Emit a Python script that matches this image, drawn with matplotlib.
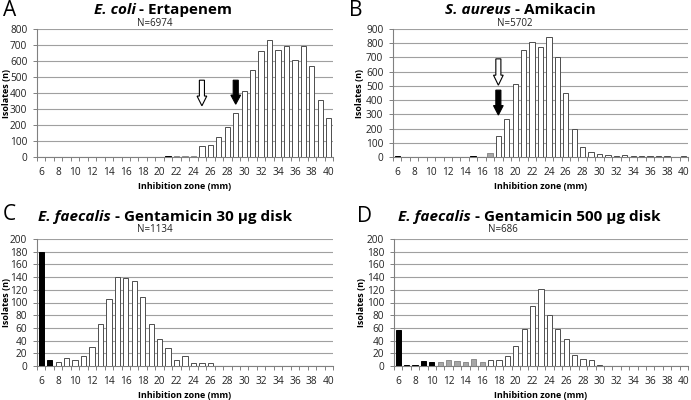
import matplotlib
matplotlib.use("Agg")
import matplotlib.pyplot as plt
from matplotlib.patches import FancyArrow

plt.rcParams['font.family'] = ['Open Sans', 'DejaVu Sans']

zones = list(range(6, 41))

# Panel A: E. coli - Ertapenem
a_counts = [3, 0, 0, 0, 0, 0, 0, 0, 0, 0, 0, 0, 0, 0, 0, 5, 8, 8, 8, 68,
            72, 122, 188, 278, 415, 545, 665, 733, 670, 695, 607, 692, 567, 356, 243]
a_cat = ['R'] * 16 + ['I'] * 3 + ['S'] * 16
# Panel B: S. aureus - Amikacin
b_counts = [5, 0, 0, 3, 3, 0, 3, 3, 3, 5, 3, 25, 150, 270, 510, 755, 812, 773, 845, 700,
            450, 200, 72, 35, 18, 12, 8, 12, 6, 5, 5, 4, 4, 0, 4]
b_cat = ['R'] * 10 + ['I'] * 2 + ['S'] * 23
# Panel C: E. faecalis - Gentamicin 30 ug
c_counts = [180, 10, 7, 12, 10, 15, 30, 66, 106, 140, 138, 134, 109, 66, 43, 28, 10, 15, 5, 4,
            4, 0, 0, 0, 0, 0, 0, 0, 0, 0, 0, 0, 0, 0, 0]
c_cat = ['R'] * 2 + ['S'] * 33
# Panel D: E. faecalis - Gentamicin 500 ug
d_counts = [56, 1, 2, 8, 6, 7, 10, 8, 6, 11, 7, 9, 10, 15, 31, 59, 94, 122, 81, 58,
            43, 18, 11, 10, 1, 0, 0, 0, 0, 0, 0, 0, 0, 0, 0]
d_cat = ['R'] * 5 + ['I'] * 6 + ['S'] * 24

titles_it = ['E. coli', 'S. aureus', 'E. faecalis', 'E. faecalis']
titles_rest = [' - Ertapenem', ' - Amikacin', ' - Gentamicin 30 µg disk', ' - Gentamicin 500 µg disk']
n_labels = ['N=6974', 'N=5702', 'N=1134', 'N=686']
letters = ['A', 'B', 'C', 'D']
ymaxes = [800, 900, 200, 200]
ysteps = [100, 100, 20, 20]

# arrows: (zone, y_top, y_tip, fill)
arrows = [
    [(25, 480, 320, 'white'), (29, 480, 330, 'black')],
    [(18, 690, 505, 'white'), (18, 470, 295, 'black')],
    [],
    [],
]

colmap = {'R': 'black', 'I': '#a6a6a6', 'S': 'white'}
edgemap = {'R': 'black', 'I': '#8c8c8c', 'S': '#4d4d4d'}

fig = plt.figure(figsize=(6.91, 4.0), dpi=100)

W, H = 691, 400
boxes = [
    (37, 29, 333, 157),
    (393, 29, 688, 157),
    (37, 239, 333, 366),
    (394, 239, 688, 366),
]
ylabel_right = [11, 364, 11, 366]
title_pos = [(163, 10), (520, 10), (165, 217), (529, 217)]
n_pos = [(155, 23), (515, 23), (155, 230), (503, 230)]
letter_pos = [(3, 11), (349, 11), (3, 214), (357, 217)]

data = [(a_counts, a_cat), (b_counts, b_cat), (c_counts, c_cat), (d_counts, d_cat)]

axes = []
for i, (counts, cats) in enumerate(data):
    x0, y0, x1, y1 = boxes[i]
    ax = fig.add_axes([x0 / W, 1 - y1 / H, (x1 - x0) / W, (y1 - y0) / H])
    axes.append(ax)
    ax.bar(zones, counts, width=0.62,
           color=[colmap[c] for c in cats],
           edgecolor=[edgemap[c] for c in cats], linewidth=0.7, zorder=3)
    ax.set_xlim(5.5, 40.5)
    ax.set_ylim(0, ymaxes[i])
    ax.set_yticks(range(0, ymaxes[i] + 1, ysteps[i]))
    ax.yaxis.grid(True, color='#a0a0a0', linewidth=0.8, zorder=0)
    ax.set_axisbelow(True)
    ax.set_xticks(range(6, 41, 2))
    ax.set_xticks([z - 0.5 for z in zones] + [40.5], minor=True)
    ax.tick_params(axis='x', which='major', length=0, labelsize=7.3, pad=7, colors='#222222')
    ax.tick_params(axis='x', which='minor', length=3, width=0.7, color='#808080', direction='out')
    ax.tick_params(axis='y', length=3, width=0.7, color='#808080', labelsize=7.3, pad=4,
                   labelcolor='#222222')
    for s in ['top', 'right']:
        ax.spines[s].set_visible(False)
    for s in ['left', 'bottom']:
        ax.spines[s].set_color('#808080')
        ax.spines[s].set_linewidth(0.8)
    ax.set_xlabel('Inhibition zone (mm)', fontsize=6.5, fontweight='bold', labelpad=3)
    ax.set_ylabel('Isolates (n)', fontsize=6.5, fontweight='bold')
    ax.yaxis.set_label_coords((ylabel_right[i] - x0) / (x1 - x0), 0.5)
    for (zx, ytop, ytip, fc) in arrows[i]:
        hl = (ytop - ytip) * 0.38
        arr = FancyArrow(zx, ytop, 0, ytip - ytop, width=0.6, head_width=1.15,
                         head_length=hl, length_includes_head=True,
                         facecolor=fc, edgecolor='black', linewidth=0.8, zorder=5)
        ax.add_patch(arr)

    fig.text(n_pos[i][0] / W, 1 - n_pos[i][1] / H, n_labels[i], fontsize=7,
             ha='center', va='center', color='#222222')
    fig.text(letter_pos[i][0] / W, 1 - letter_pos[i][1] / H, letters[i], fontsize=15,
             ha='left', va='center')

# Titles with mixed style
fig.canvas.draw()
renderer = fig.canvas.get_renderer()
for i in range(4):
    cx, cy = title_pos[i]
    t1 = fig.text(0, 1 - cy / H, titles_it[i], fontsize=11, fontweight='bold',
                  fontstyle='italic', ha='left', va='center')
    t2 = fig.text(0, 1 - cy / H, titles_rest[i], fontsize=11, fontweight='bold',
                  ha='left', va='center')
    w1 = t1.get_window_extent(renderer).width
    w2 = t2.get_window_extent(renderer).width
    start = cx - (w1 + w2) / 2
    t1.set_x(start / W)
    t2.set_x((start + w1) / W)

fig.savefig('out.png', dpi=100)
